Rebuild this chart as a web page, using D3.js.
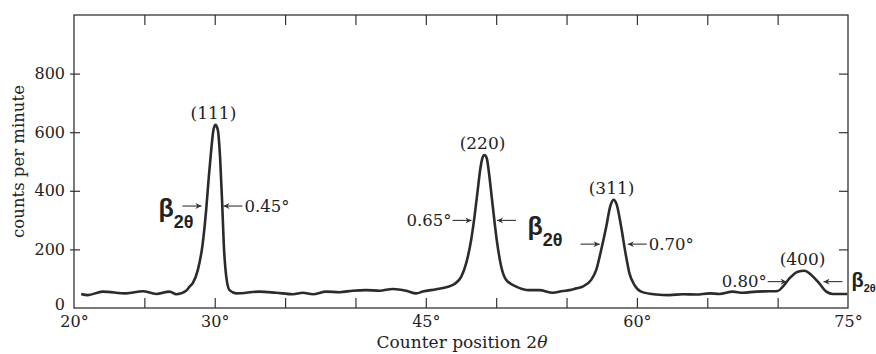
<!DOCTYPE html>
<html>
<head>
<meta charset="utf-8">
<script src="https://cdn.jsdelivr.net/npm/d3@7"></script>
<style>
  html, body { margin: 0; padding: 0; background: #fff; }
  svg text { fill: #222; }
</style>
</head>
<body>
<div id="chart"></div>
<script>
// diffraction trace (2theta in degrees, counts per minute)
const twoTheta = [20.51, 20.98, 22.03, 23.71, 24.89, 25.84, 26.79, 27.26, 27.97, 28.21,
  28.44, 28.80, 29.15, 29.39, 29.58, 29.75, 29.91, 30.05, 30.22, 30.39,
  30.53, 30.64, 30.82, 31.05, 31.53, 33.18, 34.37, 35.55, 36.26, 36.97,
  37.92, 38.87, 39.81, 40.76, 41.71, 42.65, 43.61, 44.32, 44.79, 45.74,
  46.45, 47.04, 47.52, 47.87, 48.22, 48.46, 48.69, 48.86, 49.05, 49.17,
  49.33, 49.52, 49.76, 50.04, 50.36, 50.71, 51.42, 52.36, 53.07, 54.02,
  54.73, 55.21, 55.69, 56.15, 56.75, 57.11, 57.46, 57.82, 58.10, 58.34,
  58.57, 58.88, 59.19, 59.47, 59.83, 60.30, 61.37, 62.31, 63.26, 64.21,
  65.16, 65.87, 66.81, 67.52, 68.48, 69.42, 70.01, 70.37, 70.84, 71.43,
  71.91, 72.39, 72.86, 73.46, 73.93, 74.95];
const counts = [48, 44, 56, 50, 57, 48, 56, 47, 59, 73,
  85, 130, 221, 334, 448, 539, 608, 625, 608, 505,
  357, 221, 107, 61, 50, 56, 52, 47, 52, 47,
  56, 54, 59, 61, 59, 65, 59, 50, 56, 64,
  71, 82, 107, 153, 232, 312, 403, 471, 516, 522,
  511, 448, 346, 232, 141, 96, 73, 61, 61, 52,
  58, 61, 67, 73, 96, 130, 198, 277, 346, 369,
  352, 277, 187, 118, 78, 56, 46, 44, 47, 46,
  50, 48, 56, 52, 56, 57, 58, 73, 101, 124,
  127, 113, 90, 56, 48, 48];

const xTicks = [20, 25, 30, 35, 40, 45, 50, 55, 60, 65, 70, 75];
const xLabelTicks = [20, 30, 45, 60, 75];
const yTicks = [0, 200, 400, 600, 800];

// peak labels
const peakNames = ["(111)", "(220)", "(311)", "(400)"];
const peakAt = [30.05, 49.17, 58.34, 71.91];
const peakTop = [625, 522, 369, 127];

// half-width markers: arrow tips (deg), level (counts), label and its side
const widthText = ["0.45°", "0.65°", "0.70°", "0.80°"];
const widthLeft = [29.06, 48.25, 57.35, 70.64];
const widthRight = [30.62, 50.06, 59.35, 73.26];
const widthLevel = [348, 299, 218, 90];
const widthSide = ["right", "left", "right", "left"];

// beta_2theta symbols
const betaAt = [26.0, 52.22, 75.25];
const betaLevel = [311, 249, 72];
const betaBig = [true, true, false];

const W = 876, H = 354;
const svg = d3.select("#chart").append("svg")
  .attr("width", W).attr("height", H);

const x = d3.scaleLinear().domain([20, 75]).range([74, 848]);
const y = d3.scaleLinear().domain([0, 1000]).range([308, 15]);

const serif = "'DejaVu Serif', 'Liberation Serif', serif";

// bottom ticks (inward) + labels
const xAxis = svg.append("g")
  .attr("transform", `translate(0,${y(0)})`)
  .call(d3.axisBottom(x).tickValues(xTicks)
    .tickSize(-10).tickPadding(8)
    .tickFormat(d => xLabelTicks.includes(d) ? d + "°" : ""));
xAxis.select(".domain").remove();
xAxis.selectAll(".tick line").attr("stroke", "#333").attr("stroke-width", 1.2)
  .filter(d => d === 20 || d === 75).remove();
xAxis.selectAll("text").attr("font-family", serif).attr("font-size", 16);

// top ticks
const xTop = svg.append("g")
  .attr("transform", `translate(0,${y(1000)})`)
  .call(d3.axisTop(x).tickValues(xTicks.slice(1, -1)).tickSize(-10).tickFormat(""));
xTop.select(".domain").remove();
xTop.selectAll(".tick line").attr("stroke", "#333").attr("stroke-width", 1.2);

// left axis
const yAxis = svg.append("g")
  .attr("transform", `translate(${x(20)},0)`)
  .call(d3.axisLeft(y).tickValues(yTicks).tickSize(-6).tickPadding(9));
yAxis.select(".domain").remove();
yAxis.selectAll(".tick line").attr("stroke", "#333").attr("stroke-width", 1.2)
  .attr("x1", -4);
yAxis.selectAll(".tick").filter(d => d === 0).select("line").remove();
yAxis.selectAll("text").attr("font-family", serif).attr("font-size", 16);
yAxis.selectAll(".tick").filter(d => d === 0).select("text").attr("dy", "0.1em");

// right ticks
const yRight = svg.append("g")
  .attr("transform", `translate(${x(75)},0)`)
  .call(d3.axisRight(y).tickValues(yTicks.slice(1)).tickSize(-9).tickFormat(""));
yRight.select(".domain").remove();
yRight.selectAll(".tick line").attr("stroke", "#333").attr("stroke-width", 1.2);

// frame
svg.append("rect")
  .attr("x", x(20)).attr("y", y(1000))
  .attr("width", x(75) - x(20)).attr("height", y(0) - y(1000))
  .attr("fill", "none").attr("stroke", "#333").attr("stroke-width", 1.3);

// axis titles
svg.append("text")
  .attr("transform", `translate(24,${(y(0) + y(1000)) / 2}) rotate(-90)`)
  .attr("text-anchor", "middle")
  .attr("font-family", serif).attr("font-size", 16.5)
  .text("counts per minute");

const xt = svg.append("text")
  .attr("x", (x(20) + x(75)) / 2 + 1).attr("y", 348)
  .attr("text-anchor", "middle")
  .attr("font-family", serif).attr("font-size", 17);
xt.append("tspan").text("Counter position 2");
xt.append("tspan").attr("font-style", "italic").text("θ");

// trace
const pts = twoTheta.map((t, i) => [t, counts[i]]);
const line = d3.line()
  .x(d => x(d[0]))
  .y(d => y(d[1]))
  .curve(d3.curveMonotoneX);

svg.append("path")
  .datum(pts)
  .attr("fill", "none")
  .attr("stroke", "#2b2b2b")
  .attr("stroke-width", 2.6)
  .attr("stroke-linejoin", "round")
  .attr("d", line);

// peak labels
peakNames.forEach((s, i) => {
  svg.append("text")
    .attr("x", x(peakAt[i]) - 2)
    .attr("y", y(peakTop[i]) - 6)
    .attr("text-anchor", "middle")
    .attr("font-family", serif).attr("font-size", 17)
    .text(s);
});

// arrows
svg.append("defs").append("marker")
  .attr("id", "ah")
  .attr("viewBox", "0 0 10 10")
  .attr("refX", 10).attr("refY", 5)
  .attr("markerWidth", 7).attr("markerHeight", 6)
  .attr("markerUnits", "userSpaceOnUse")
  .attr("orient", "auto")
  .append("path").attr("d", "M0,0L10,5L0,10L3,5Z").attr("fill", "#333");

const arrLen = 19;
widthText.forEach((s, i) => {
  const ly = y(widthLevel[i]);
  const xl = x(widthLeft[i]), xr = x(widthRight[i]);
  svg.append("line")
    .attr("x1", xl - arrLen).attr("x2", xl).attr("y1", ly).attr("y2", ly)
    .attr("stroke", "#333").attr("stroke-width", 1.1)
    .attr("marker-end", "url(#ah)");
  svg.append("line")
    .attr("x1", xr + arrLen).attr("x2", xr).attr("y1", ly).attr("y2", ly)
    .attr("stroke", "#333").attr("stroke-width", 1.1)
    .attr("marker-end", "url(#ah)");
  const right = widthSide[i] === "right";
  svg.append("text")
    .attr("x", right ? xr + arrLen + 2 : xl - arrLen - 1)
    .attr("y", ly + 5.5)
    .attr("text-anchor", right ? "start" : "end")
    .attr("font-family", serif).attr("font-size", 16.5)
    .text(s);
});

// beta symbols
betaAt.forEach((b, i) => {
  const big = betaBig[i];
  const t = svg.append("text")
    .attr("x", x(b)).attr("y", y(betaLevel[i]))
    .attr("font-family", "'Liberation Sans', Arial, sans-serif")
    .attr("font-weight", "bold")
    .attr("font-size", big ? 25 : 20);
  t.append("tspan").text("β");
  t.append("tspan")
    .attr("dy", big ? 11 : 5)
    .attr("font-size", big ? 18 : 11)
    .text("2θ");
});
</script>
</body>
</html>
